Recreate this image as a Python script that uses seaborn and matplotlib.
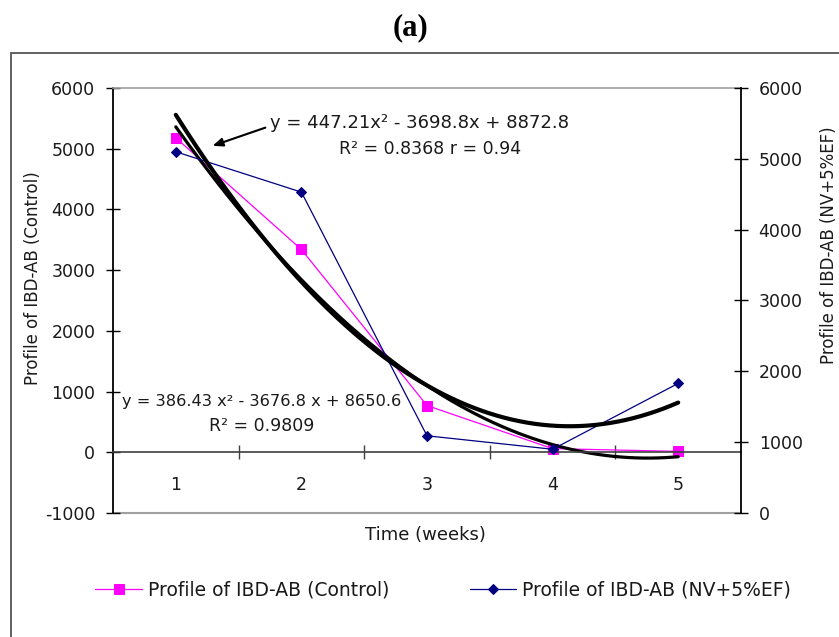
import numpy as np
import pandas as pd
import matplotlib
matplotlib.use("Agg")
import matplotlib.pyplot as plt
import seaborn as sns
from matplotlib.patches import Rectangle
from matplotlib.ticker import FixedLocator, NullFormatter, FixedFormatter

# ---- data ----
weeks = [1, 2, 3, 4, 5]
week_labels = ["1", "2", "3", "4", "5"]
control = [5180, 3340, 770, 60, 15]          # left axis
treated = [5100, 4530, 1090, 900, 1830]      # right axis
control_fit = [386.43, -3676.8, 8650.6]      # polynomial trendline (displayed)
treated_fit = [447.21, -3698.8, 8872.8]
left_ticks = [-1000, 0, 1000, 2000, 3000, 4000, 5000, 6000]
right_ticks = [0, 1000, 2000, 3000, 4000, 5000, 6000]
control_name = "Profile of IBD-AB (Control)"
treated_name = "Profile of IBD-AB (NV+5%EF)"
eq1 = "y = 447.21x\u00b2 - 3698.8x + 8872.8"
eq1b = "R\u00b2 = 0.8368 r = 0.94"
eq2 = "y = 386.43 x\u00b2 - 3676.8 x + 8650.6"
eq2b = "R\u00b2 = 0.9809"

sns.set_style("white")
plt.rcParams["font.family"] = ["DejaVu Sans"]
plt.rcParams["axes.unicode_minus"] = False
dark = "#1a1a1a"
for k in ["text.color", "axes.labelcolor", "xtick.color", "ytick.color"]:
    plt.rcParams[k] = dark

W, H = 839, 637
fig = plt.figure(figsize=(W / 100, H / 100), dpi=100)
ax = fig.add_axes([113 / W, 1 - 513 / H, 628 / W, 425 / H])
ax2 = ax.twinx()

df_c = pd.DataFrame({"week": weeks, "val": control})
df_t = pd.DataFrame({"week": weeks, "val": treated})
xs = np.linspace(1, 5, 200)
fit_c = pd.DataFrame({"x": xs, "y": np.polyval(control_fit, xs)})
fit_t = pd.DataFrame({"x": xs, "y": np.polyval(treated_fit, xs)})

sns.lineplot(data=df_c, x="week", y="val", ax=ax, color="#FF00FF", lw=0.9,
             marker="s", markersize=7, markeredgecolor="#FF00FF", label=control_name)
sns.lineplot(data=fit_c, x="x", y="y", ax=ax, color="black", lw=2.3, legend=False)
sns.lineplot(data=df_t, x="week", y="val", ax=ax2, color="#000080", lw=0.9,
             marker="D", markersize=5.5, markeredgecolor="#000080", label=treated_name)
sns.lineplot(data=fit_t, x="x", y="y", ax=ax2, color="black", lw=3.0, legend=False)

for a in (ax, ax2):
    if a.get_legend() is not None:
        a.get_legend().remove()
    a.set_xlabel("")
    a.set_ylabel("")

ax.set_xlim(0.5, 5.5)
ax.set_ylim(-1000, 6000)
ax2.set_ylim(0, 6000)

# spines
ax.spines["bottom"].set_position(("data", 0))
ax.spines["bottom"].set_color("#404040")
ax.spines["bottom"].set_linewidth(1.2)
ax.spines["top"].set_color("#a0a0a0")
ax.spines["top"].set_linewidth(1.2)
ax.spines["left"].set_color("black")
ax.spines["left"].set_linewidth(1.3)
ax.spines["right"].set_visible(False)
for s in ["left", "top", "bottom"]:
    ax2.spines[s].set_visible(False)
ax2.spines["right"].set_color("black")
ax2.spines["right"].set_linewidth(1.3)
ax.axhline(-1000, color="#a0a0a0", lw=1.5, clip_on=False, zorder=0)

# x ticks
ax.xaxis.set_major_locator(FixedLocator([1.5, 2.5, 3.5, 4.5]))
ax.xaxis.set_major_formatter(NullFormatter())
ax.xaxis.set_minor_locator(FixedLocator(weeks))
ax.xaxis.set_minor_formatter(FixedFormatter(week_labels))
ax.tick_params(axis="x", which="major", bottom=True, direction="inout",
               length=9.4, width=1, color="#404040")
ax.tick_params(axis="x", which="minor", bottom=True, length=0, pad=17,
               labelsize=12.5)

# y ticks
ax.set_yticks(left_ticks)
ax.tick_params(axis="y", left=True, right=False, direction="inout",
               length=9.4, width=1, color="black", pad=8, labelsize=12.5)
ax2.set_yticks(right_ticks)
ax2.tick_params(axis="y", right=True, left=False, direction="inout",
                length=9.4, width=1, color="black", pad=8, labelsize=12.5)

# labels
fig.text(425 / W, 1 - 535 / H, "Time (weeks)", ha="center", va="center", fontsize=13)
fig.text(33 / W, 1 - 278 / H, control_name, rotation=90, ha="center", va="center", fontsize=12)
fig.text(829 / W, 1 - 245 / H, treated_name, rotation=90, ha="center", va="center", fontsize=12)
fig.text(411 / W, 1 - 28 / H, "(a)", family="Liberation Serif", weight="bold",
         fontsize=22, ha="center", va="center", color="black")

# equations
ax.text(1.75, 5428, eq1, ha="left", va="center", fontsize=13)
ax.text(3.024, 5000, eq1b, ha="center", va="center", fontsize=12.5)
ax.text(1.686, 839, eq2, ha="center", va="center", fontsize=11.7)
ax.text(1.686, 428, eq2b, ha="center", va="center", fontsize=12.5)
ax.annotate("", xy=(1.272, 5033), xytext=(1.734, 5362),
            arrowprops=dict(arrowstyle="-|>,head_length=0.6,head_width=0.25",
                            color="black", lw=1.5))

# legend
h1, l1 = ax.get_legend_handles_labels()
h2, l2 = ax2.get_legend_handles_labels()
fig.legend(h1 + h2, l1 + l2, loc="center", bbox_to_anchor=(443 / W, 1 - 590 / H),
           ncol=2, frameon=False, fontsize=13.5, handlelength=2.5,
           handletextpad=0.3, columnspacing=4.3)

# outer frame
fig.add_artist(Rectangle((11 / W, -0.5), 2, (1 - 53 / H) + 0.5, transform=fig.transFigure,
                         fill=False, edgecolor="#555555", lw=1.3))

fig.savefig("out.png", dpi=100, facecolor="white")
